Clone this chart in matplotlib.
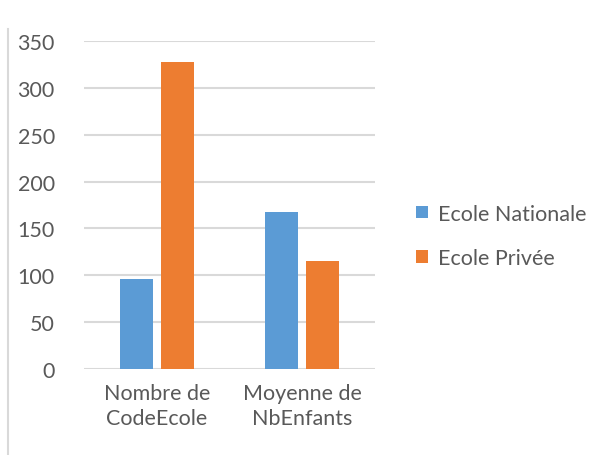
import matplotlib
matplotlib.use("Agg")
import matplotlib.pyplot as plt
import numpy as np
from matplotlib.lines import Line2D

categories = ["Nombre de\nCodeEcole", "Moyenne de\nNbEnfants"]
series_names = ["Ecole Nationale", "Ecole Privée"]
nationale = [96, 167]
privee = [328, 115]
yticks = [0, 50, 100, 150, 200, 250, 300, 350]

colors = ["#5B9BD5", "#ED7D31"]
text_color = "#595959"
grid_color = "#D9D9D9"

plt.rcParams["font.family"] = ["Lato", "DejaVu Sans"]

fig = plt.figure(figsize=(6.13, 4.56), dpi=100)
ax = fig.add_axes([84 / 613, 1 - 370 / 456, 291 / 613, 328 / 456])

x = np.arange(len(categories))
width = 0.227
offset = 0.142
ax.bar(x - offset, nationale, width, color=colors[0], label=series_names[0], zorder=3)
ax.bar(x + offset, privee, width, color=colors[1], label=series_names[1], zorder=3)

ax.set_xlim(-0.5, 1.5)
ax.set_ylim(0, 350)
ax.set_yticks(yticks)
ax.set_yticklabels([str(v) for v in yticks])
ax.set_xticks(x)
ax.set_xticklabels(categories, linespacing=1.35)

for v in yticks:
    ax.axhline(v, color=grid_color, lw=1.5, zorder=1)

for s in ax.spines.values():
    s.set_visible(False)
ax.tick_params(axis="both", length=0, colors=text_color, labelsize=15.5)
ax.tick_params(axis="y", pad=21)
ax.tick_params(axis="x", pad=10)

leg = fig.legend(loc="center left", bbox_to_anchor=(397 / 613, 1 - 237 / 456),
                 frameon=False, fontsize=15.5, handlelength=0.55, handleheight=0.55,
                 handletextpad=0.45, labelspacing=1.15, labelcolor=text_color)

# thin frame edge along the left side
fig.add_artist(Line2D([8 / 613, 8 / 613], [0, 1 - 30 / 456], color=grid_color,
                      lw=1.5, transform=fig.transFigure))

fig.savefig("out.png", dpi=100)
